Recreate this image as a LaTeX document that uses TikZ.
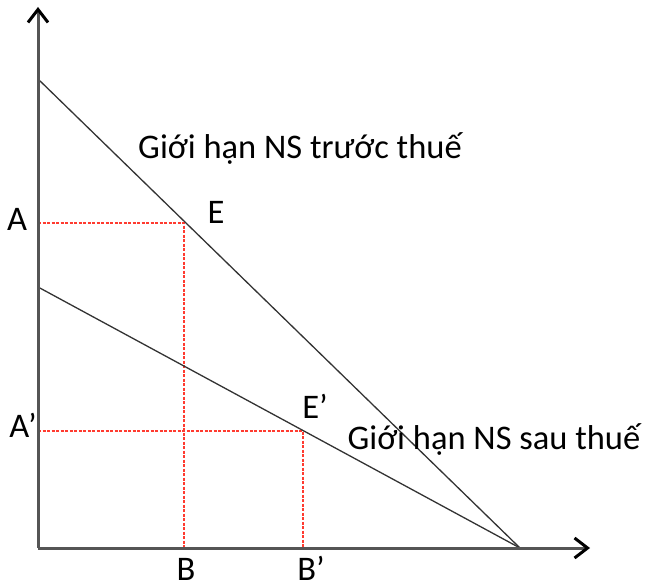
\documentclass[tikz,border=0pt]{standalone}
\usepackage{fontspec}
\setmainfont{Carlito}
\usepackage{tikz}
\usetikzlibrary{arrows.meta,positioning,calc}
\definecolor{axisgray}{HTML}{555555}
\definecolor{guidered}{HTML}{FF3B30}

\begin{document}
\begin{tikzpicture}[x=1pt,y=-1pt,
  axis/.style={draw=axisgray,line width=3pt,-{Straight Barb[length=13pt,width=20pt,line width=3pt,color=black]}},
  budget/.style={draw=black!80,line width=1.3pt},
  guide/.style={draw=guidered,line width=1.4pt,dash pattern=on 3pt off 1.5pt},
  lbl/.style={font=\fontsize{34.5}{40}\selectfont,inner sep=0pt,anchor=base}
]
\useasboundingbox (0,0) rectangle (653,588);
% points of the diagram
\coordinate (O) at (38,548);
\coordinate (ytop) at (38,7);
\coordinate (xend) at (590,548);
\coordinate (pretax) at (38,79);
\coordinate (posttax) at (38,287);
\coordinate (Q) at (520,548);
\coordinate (E) at (184,223);
\coordinate (Ep) at (303,431);
% guide lines
\draw[guide] (O |- E) -- (E) -- (E |- O);
\draw[guide] (O |- Ep) -- (Ep) -- (Ep |- O);
% budget lines
\draw[budget] (pretax) -- (Q);
\draw[budget] (posttax) -- (Q);
% axes
\draw[axis] (O) -- (ytop);
\draw[axis] (O) -- (xend);
% labels
\node[lbl] (lA) at (17,230) {A};
\node[lbl] (lAp) at (23,437) {A’};
\node[lbl] (lB) at (186,580) {B};
\node[lbl] (lBp) at (311,580) {B’};
\node[lbl] (lE) at (216,223) {E};
\node[lbl] (lEp) at (315,418) {E’};
\node[lbl] (before) at (300,159) {Giới hạn NS trước thuế};
\node[lbl] (after) at (494,449) {Giới hạn NS sau thuế};
\end{tikzpicture}
\end{document}
